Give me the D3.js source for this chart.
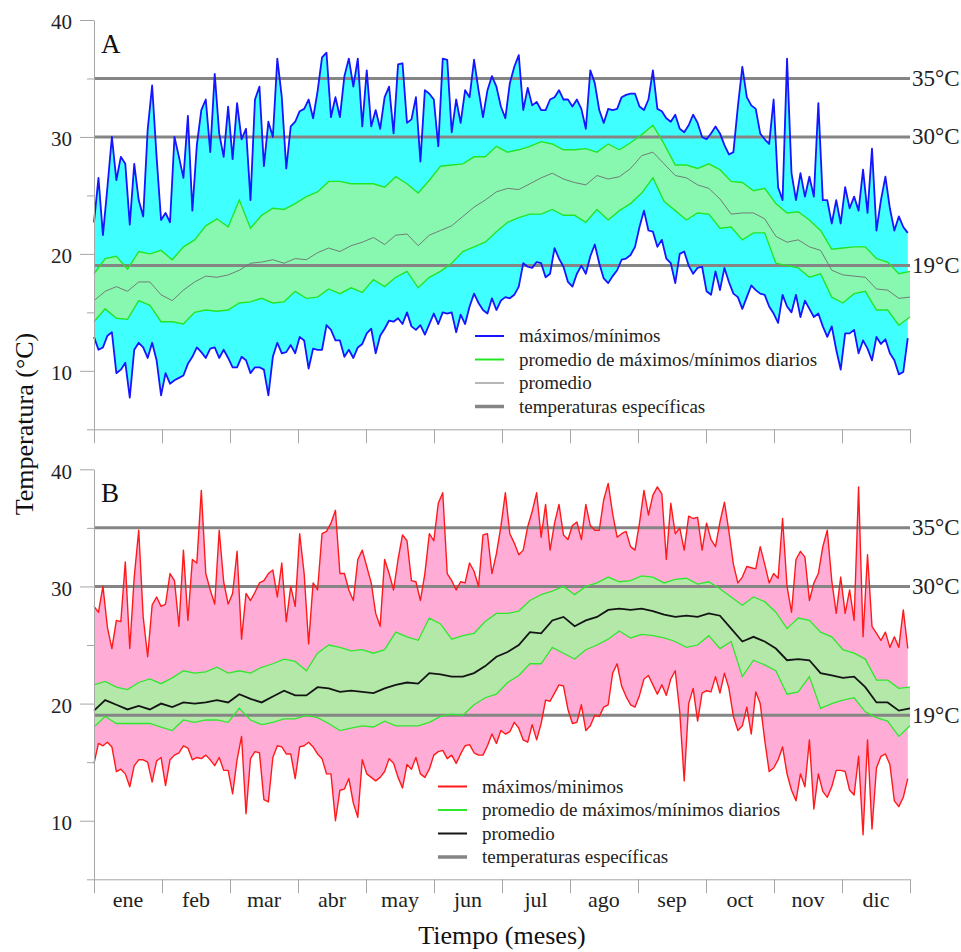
<!DOCTYPE html>
<html lang="es">
<head>
<meta charset="utf-8">
<title>Temperatura diaria</title>
<script src="https://cdn.jsdelivr.net/npm/d3@7/dist/d3.min.js"></script>
<style>
  html, body { margin: 0; padding: 0; background: #fff; }
  svg { display: block; font-family: "Liberation Serif", "Times New Roman", serif; }
</style>
</head>
<body>
<svg id="chart" width="961" height="952"></svg>
<script>
// ---- data -------------------------------------------------------------
const months = ['ene','feb','mar','abr','may','jun','jul','ago','sep','oct','nov','dic'];
const yTicksMajor = [10, 20, 30, 40];
const yTicksMinor = [5, 15, 25, 35];
const refTemps  = [35, 30, 19];
const refLabels = ['35°C', '30°C', '19°C'];

// daily extremes, sampled every 2 days (day 0 .. 364)
const EXT_STEP = 2;
const maxA = [22.7,26.5,21.6,25.7,30.0,26.3,28.3,27.7,22.5,27.7,24.6,23.2,30.6,34.4,28.3,22.9,23.5,22.7,30.0,28.3,26.5,31.8,23.7,29.3,32.3,33.2,28.7,35.4,30.3,28.3,32.6,28.1,32.9,29.8,30.7,24.6,33.2,34.3,27.5,31.3,30.0,36.7,33.4,27.3,30.9,31.3,32.2,32.4,33.2,31.6,33.9,36.8,37.2,
  31.7,33.4,31.7,35.2,36.7,34.3,36.7,30.9,35.7,30.9,32.3,30.7,33.4,34.3,30.3,36.2,36.3,31.2,31.5,33.4,27.9,34.0,33.7,33.2,29.2,36.7,36.6,30.4,33.2,31.2,34.0,33.4,36.6,34.0,31.7,34.0,35.2,34.3,32.6,31.6,34.6,36.0,37.0,32.3,34.2,32.7,33.0,32.3,32.3,33.2,33.4,34.0,33.2,33.2,32.6,33.2,32.4,30.7,35.7,34.6,32.3,31.2,32.4,32.3,32.4,33.4,33.6,33.7,
  33.7,32.6,32.3,33.2,35.7,32.4,32.2,31.6,31.3,31.9,30.7,30.4,31.0,31.9,31.2,30.0,29.8,30.3,30.9,30.3,29.3,28.5,28.7,32.6,36.0,33.4,32.7,32.4,30.3,29.8,29.4,33.2,25.7,24.6,36.7,26.9,24.6,26.9,24.9,26.6,24.9,32.9,24.6,24.6,22.6,24.6,22.6,25.7,23.9,24.9,23.7,27.2,23.5,29.0,22.0,24.6,26.6,23.9,22.0,23.2,22.3,21.8];
const minA = [12.9,11.8,12.0,13.0,13.3,9.8,10.1,10.7,7.7,11.8,12.4,12.0,11.1,12.4,10.9,7.9,9.8,8.9,9.2,9.4,9.6,10.6,11.2,12.0,11.6,11.1,11.9,12.0,11.1,11.8,11.1,10.3,10.3,11.2,10.9,9.8,10.3,10.3,10.1,7.9,11.2,12.4,11.5,11.6,12.2,11.5,12.9,12.6,10.2,11.9,11.8,11.8,13.9,
  13.5,12.6,12.6,11.2,11.8,11.1,12.0,12.3,13.2,13.6,11.5,13.0,13.6,14.3,14.2,14.5,14.0,15.0,13.8,13.5,13.9,13.1,14.0,14.9,14.0,15.0,14.9,15.0,13.3,14.8,14.0,15.5,16.6,15.8,15.2,14.9,16.2,15.2,16.0,16.3,16.2,16.5,17.2,19.2,18.9,18.8,19.3,19.2,18.0,18.3,20.5,19.6,18.9,17.6,17.2,18.3,19.0,18.3,19.8,20.8,19.2,17.9,17.5,18.1,18.6,19.5,19.6,19.9,
  20.6,22.3,23.7,22.0,21.9,20.6,21.2,19.6,19.2,17.5,20.0,20.2,19.0,18.3,18.8,18.9,16.8,16.5,18.5,16.9,18.8,17.6,16.6,16.3,15.3,16.3,17.3,16.9,16.6,16.5,15.5,14.9,14.1,16.5,15.5,15.0,16.5,14.6,16.0,15.3,14.6,14.9,13.8,12.9,13.8,11.8,10.1,13.2,13.2,13.5,11.5,12.6,11.9,10.9,12.9,12.3,12.7,11.5,10.9,9.7,9.9,12.8];
const maxB = [28.3,27.8,30.0,26.5,24.7,27.1,27.0,32.1,24.7,30.8,34.8,27.4,24.0,28.4,29.1,28.3,28.5,31.1,30.5,26.6,33.1,27.1,32.3,32.0,38.2,31.1,29.7,28.5,34.8,30.4,28.5,29.4,33.0,25.5,29.4,28.8,29.5,30.3,30.5,31.1,31.4,29.1,32.0,27.0,30.0,28.3,34.5,31.1,25.1,30.3,29.7,34.5,34.7,
  35.4,36.5,31.1,31.1,29.7,28.8,32.3,33.1,31.7,30.3,27.7,26.6,32.3,31.1,29.7,32.3,34.4,33.9,30.5,30.4,28.8,31.1,34.5,33.9,37.1,38.0,31.1,30.5,29.7,30.4,30.3,32.0,31.3,30.0,34.4,34.5,31.1,32.8,35.1,38.0,34.5,33.7,32.7,33.1,35.1,36.4,38.0,34.2,37.0,33.1,35.4,37.0,34.4,34.0,35.2,35.5,34.0,37.0,35.2,34.8,34.8,37.4,38.8,36.2,34.2,34.5,34.7,33.4,
  33.1,35.4,38.2,36.1,37.8,38.5,37.9,32.3,37.1,34.5,35.0,33.1,36.0,35.8,35.9,33.1,35.4,34.0,33.4,35.5,37.2,34.7,31.9,30.3,30.8,31.7,31.6,31.5,33.4,31.9,30.3,31.1,30.7,35.8,30.0,27.8,32.3,33.0,32.5,28.8,30.3,31.1,33.4,34.8,30.5,27.7,30.8,27.7,29.7,27.1,38.5,25.7,32.7,26.6,26.0,25.4,26.1,24.8,25.7,24.8,28.0,24.7];
const minB = [14.9,16.6,16.4,16.7,16.3,14.2,14.4,14.0,12.9,14.7,15.2,15.2,15.0,13.3,15.1,15.4,13.0,15.2,15.6,15.8,16.4,16.2,15.2,15.4,15.3,15.6,15.2,14.7,15.4,14.3,14.3,12.3,15.2,17.2,10.6,15.3,15.9,15.8,11.8,11.6,15.4,16.4,16.3,15.7,15.7,13.6,16.3,16.4,16.7,16.3,15.7,15.3,14.0,
  14.0,10.0,12.6,12.7,13.6,11.5,10.3,15.2,14.0,13.7,13.4,13.7,14.2,15.3,14.9,13.7,12.8,14.8,14.4,15.4,14.0,13.7,14.4,15.6,15.9,16.0,15.3,15.6,14.9,15.7,16.4,16.5,15.8,15.6,15.6,16.4,17.4,16.6,17.7,17.4,17.6,18.4,17.9,16.9,16.7,18.2,16.9,18.3,20.3,20.2,20.9,21.6,21.5,19.5,18.3,18.4,19.9,17.7,18.1,19.0,18.9,19.7,19.9,22.6,23.4,21.5,20.6,19.9,
  19.7,20.7,22.1,22.4,21.6,20.8,21.6,20.7,22.1,22.8,19.3,13.4,20.0,21.3,18.5,20.9,21.1,21.0,22.3,20.9,22.6,21.3,18.9,17.7,18.1,19.7,17.4,21.0,20.0,16.9,14.2,14.5,15.2,16.3,14.0,12.6,11.7,14.0,12.9,16.9,11.0,14.0,12.5,12.0,12.9,14.3,14.3,14.2,12.6,12.2,15.5,8.8,16.9,9.3,14.5,15.5,15.7,14.8,11.7,11.2,12.0,13.6];

// smoothed daily means, sampled every 5 days (day 0 .. 365)
const AVG_STEP = 5;
const avgMaxA = [18.3,19.6,19.8,18.7,20.2,20.0,20.3,19.5,20.6,21.2,22.4,23.0,22.3,24.6,22.2,23.3,23.9,23.8,24.3,24.9,25.3,26.2,
  26.2,26.0,26.0,26.0,25.7,26.6,26.0,25.2,26.3,27.5,27.6,27.7,28.3,28.3,29.2,28.7,28.9,29.2,29.6,29.4,28.9,28.9,29.0,28.7,29.4,28.9,29.5,
  30.2,31.0,29.4,27.6,27.6,27.3,27.7,27.2,26.2,26.1,25.4,25.6,24.3,23.5,23.6,22.9,22.0,20.4,20.5,20.6,20.6,19.6,19.3,18.3,18.5];
const avgMinA = [14.2,15.3,14.5,14.4,16.0,15.6,14.2,14.2,14.0,15.0,15.2,15.1,15.2,15.8,15.9,16.2,15.8,15.9,16.8,16.2,16.3,17.0,
  16.6,17.1,16.7,17.8,17.2,18.0,18.5,17.1,18.0,18.5,19.2,20.2,20.6,21.0,21.9,22.7,23.1,23.4,23.4,23.8,23.3,23.3,22.7,23.8,22.9,23.7,24.3,
  25.2,26.5,24.5,23.7,22.9,23.5,23.4,22.2,22.3,21.2,21.8,21.8,19.2,19.0,18.8,18.0,18.3,16.3,15.8,16.6,16.8,15.2,15.2,13.9,14.6];
const avgA = [16.0,16.8,17.2,16.8,17.6,17.6,16.5,16.0,16.9,17.6,18.1,18.0,18.2,18.6,19.2,19.3,19.5,19.2,19.6,19.5,20.1,20.5,
  20.2,20.7,21.0,21.4,20.8,21.6,21.7,20.7,21.6,22.0,22.4,23.2,24.0,24.6,25.3,25.6,25.5,26.0,26.5,26.9,26.4,26.1,25.9,26.7,26.4,26.6,27.3,
  28.4,28.7,27.7,26.7,26.5,25.9,25.6,24.7,23.4,23.5,23.5,23.0,21.5,21.0,21.2,20.6,20.3,18.6,18.2,18.1,18.0,17.0,16.9,16.2,16.3];
const avgMaxB = [21.6,21.9,21.4,21.2,21.8,22.1,21.7,22.2,22.8,22.6,22.7,23.1,22.6,22.8,22.6,23.1,23.4,23.8,23.6,22.8,24.3,25.0,
  24.8,24.5,24.6,24.3,24.6,26.1,25.7,25.4,27.3,26.8,25.5,25.8,26.0,27.0,27.7,27.7,27.9,28.8,29.3,29.6,30.0,29.3,30.0,30.3,30.8,30.4,30.5,
  30.9,30.8,30.3,30.6,30.7,30.2,30.4,29.8,29.1,28.4,29.1,28.7,27.8,26.4,27.3,27.1,26.1,25.7,24.6,24.3,23.8,22.0,22.0,21.3,21.4];
const avgMinB = [18.0,18.9,18.3,18.3,18.3,18.3,18.0,17.7,18.6,18.4,18.6,18.6,18.4,19.6,18.6,18.2,18.4,18.7,18.7,19.0,18.8,18.3,
  17.7,17.9,18.1,18.0,18.5,18.1,18.1,18.1,18.4,18.9,19.1,19.0,19.9,20.5,20.8,21.8,22.4,23.4,23.4,24.8,24.3,23.8,24.6,25.0,25.5,26.2,25.6,
  25.9,25.8,25.6,25.3,24.8,25.0,25.8,24.7,25.3,22.3,23.7,23.3,22.8,20.8,21.0,22.3,19.6,20.0,20.3,20.5,19.3,18.8,18.5,17.2,18.1];
const avgB = [19.4,20.3,19.9,19.5,19.8,19.5,20.0,19.7,20.1,20.0,20.1,20.3,20.1,20.8,20.4,20.1,20.6,21.1,20.7,20.7,21.4,21.3,
  21.0,21.1,21.0,20.9,21.3,21.6,21.8,21.7,22.6,22.5,22.3,22.3,22.6,23.2,24.0,24.4,25.0,26.1,26.0,27.1,27.4,26.6,27.1,27.4,28.0,28.1,28.0,
  28.1,27.9,27.6,27.4,27.5,27.4,27.7,27.5,26.4,25.3,25.7,25.3,24.7,23.7,23.8,23.7,22.6,22.4,22.2,22.3,21.4,20.1,20.1,19.4,19.6];

const legendA = ['máximos/mínimos', 'promedio de máximos/mínimos diarios', 'promedio', 'temperaturas específicas'];
const legendB = ['máximos/minimos', 'promedio de máximos/mínimos diarios', 'promedio', 'temperaturas específicas'];

// ---- drawing ----------------------------------------------------------
const svg = d3.select('#chart');
const DAYS = 365;
const x = d3.scaleLinear().domain([0, DAYS]).range([94, 910]);
const monthEdges = d3.range(13).map(i => i * DAYS / 12);
const AXIS = '#a6a6a6';
const REF = '#858585';

const panels = [
  { name: 'A', top: 20, bottom: 429.3, max: maxA, min: minA, amax: avgMaxA, amin: avgMinA, avg: avgA,
    outer: '#40ffff', inner: '#88f8b0', ext: '#1515ff', extW: 1.8, aext: '#22e622', aextW: 1.4,
    avgC: '#6e6e6e', avgW: 0.9, legend: legendA, legX: 475, legY: 336, legDY: 23.5 },
  { name: 'B', top: 469.3, bottom: 879.3, max: maxB, min: minB, amax: avgMaxB, amin: avgMinB, avg: avgB,
    outer: '#ffadd6', inner: '#b3e8a8', ext: '#ff1a1a', extW: 1.4, aext: '#2ee82e', aextW: 1.3,
    avgC: '#141414', avgW: 1.8, legend: legendB, legX: 438, legY: 786.5, legDY: 23.5 }
];

panels.forEach(p => {
  const y = d3.scaleLinear().domain([5, 40]).range([p.bottom, p.top]);
  const g = svg.append('g');

  const ext = p.max.map((v, i) => ({ day: i * EXT_STEP, hi: v, lo: p.min[i] }));
  const avg = p.amax.map((v, i) => ({ day: i * AVG_STEP, hi: v, lo: p.amin[i], mid: p.avg[i] }));

  const band = d3.area().x(d => x(d.day)).y0(d => y(d.lo)).y1(d => y(d.hi));
  g.append('path').datum(ext).attr('d', band).attr('fill', p.outer);
  g.append('path').datum(avg).attr('d', band).attr('fill', p.inner);

  // reference temperatures
  refTemps.forEach((t, i) => {
    g.append('line').attr('x1', x(0)).attr('x2', x(DAYS)).attr('y1', y(t)).attr('y2', y(t))
      .attr('stroke', REF).attr('stroke-width', 3);
    g.append('text').attr('x', x(DAYS) + 2).attr('y', y(t) + 7.5)
      .attr('font-size', 23).attr('fill', '#222').text(refLabels[i]);
  });

  const lineOf = key => d3.line().x(d => x(d.day)).y(d => y(d[key]));
  g.append('path').datum(avg).attr('d', lineOf('hi')).attr('fill', 'none').attr('stroke', p.aext).attr('stroke-width', p.aextW);
  g.append('path').datum(avg).attr('d', lineOf('lo')).attr('fill', 'none').attr('stroke', p.aext).attr('stroke-width', p.aextW);
  g.append('path').datum(avg).attr('d', lineOf('mid')).attr('fill', 'none').attr('stroke', p.avgC).attr('stroke-width', p.avgW);
  g.append('path').datum(ext).attr('d', lineOf('hi')).attr('fill', 'none').attr('stroke', p.ext).attr('stroke-width', p.extW).attr('stroke-linejoin', 'round');
  g.append('path').datum(ext).attr('d', lineOf('lo')).attr('fill', 'none').attr('stroke', p.ext).attr('stroke-width', p.extW).attr('stroke-linejoin', 'round');

  // y axis: labelled major ticks and short minor ticks
  const yAxis = g.append('g').attr('transform', `translate(${x(0)},0)`)
    .call(d3.axisLeft(y).tickValues(yTicksMajor).tickSize(14).tickSizeOuter(0).tickPadding(8));
  yAxis.select('.domain').attr('stroke', AXIS);
  yAxis.selectAll('.tick line').attr('stroke', AXIS);
  yAxis.selectAll('.tick text').attr('font-size', 21).attr('fill', '#222')
    .attr('font-family', '"Liberation Serif", "Times New Roman", serif').attr('dy', '0.42em');
  const yMinor = g.append('g').attr('transform', `translate(${x(0)},0)`)
    .call(d3.axisLeft(y).tickValues(yTicksMinor).tickSize(7).tickSizeOuter(0).tickFormat(''));
  yMinor.select('.domain').remove();
  yMinor.selectAll('.tick line').attr('stroke', AXIS);

  // x axis with month boundaries
  const xAxis = g.append('g').attr('transform', `translate(0,${p.bottom})`)
    .call(d3.axisBottom(x).tickValues(monthEdges).tickSize(14).tickSizeOuter(0).tickFormat(''));
  xAxis.select('.domain').attr('stroke', AXIS);
  xAxis.selectAll('.tick line').attr('stroke', AXIS);

  // panel letter
  g.append('text').attr('x', 101).attr('y', p.top + 33).attr('font-size', 27).attr('fill', '#111').text(p.name);

  // legend
  const lg = g.append('g');
  const legStyles = [
    { c: p.ext, w: 2 }, { c: p.aext, w: 2 }, { c: p.avgC, w: p.name === 'A' ? 1 : 2 }, { c: REF, w: 3.5 }
  ];
  p.legend.forEach((label, i) => {
    const ly = p.legY + i * p.legDY;
    lg.append('line').attr('x1', p.legX).attr('x2', p.legX + 29).attr('y1', ly).attr('y2', ly)
      .attr('stroke', legStyles[i].c).attr('stroke-width', legStyles[i].w);
    lg.append('text').attr('x', p.legX + 44).attr('y', ly + 6).attr('font-size', 19).attr('fill', '#222').text(label);
  });
});

// month names under the lower panel
svg.append('g').selectAll('text').data(months).join('text')
  .attr('x', (d, i) => x((i + 0.5) * DAYS / 12)).attr('y', 907)
  .attr('text-anchor', 'middle').attr('font-size', 22).attr('fill', '#222').text(d => d);

// axis titles
svg.append('text').attr('x', 502).attr('y', 944).attr('text-anchor', 'middle')
  .attr('font-size', 26).attr('fill', '#111').text('Tiempo (meses)');
svg.append('text').attr('transform', 'translate(33,424) rotate(-90)').attr('text-anchor', 'middle')
  .attr('font-size', 26).attr('fill', '#111').text('Temperatura (°C)');
</script>
</body>
</html>
